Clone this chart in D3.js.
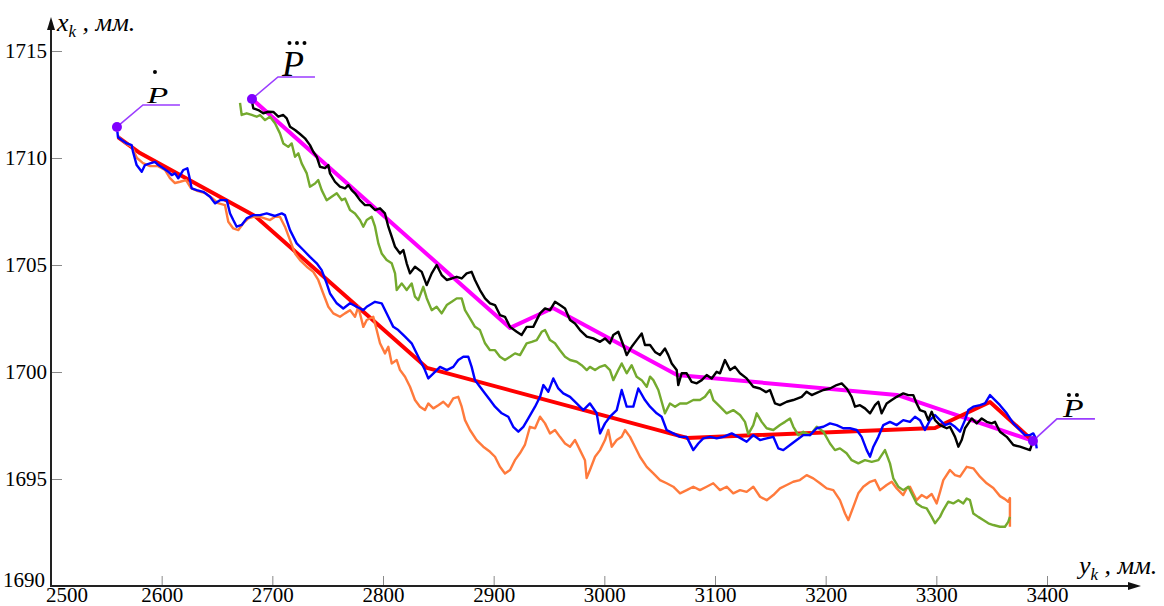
<!DOCTYPE html>
<html><head><meta charset="utf-8">
<script src="https://cdn.jsdelivr.net/npm/d3@7"></script>
<style>body{margin:0;background:#fff}svg{display:block}</style>
</head><body><svg id="c" width="1164" height="606"></svg>
<script>
const xTickValues=[2600,2700,2800,2900,3000,3100,3200,3300,3400];
const yTickValues=[1690,1695,1700,1705,1710,1715];
const xDomain=[2500,3400];
const yDomain=[1690,1715];

// piecewise approximations
const redPath=[[2560.5,1710.98],[2580.4,1710.23],[2684.3,1707.29],[2839.8,1700.19],[3074.7,1696.92],[3298.8,1697.38],[3348.5,1698.60],[3387.3,1696.78]];
const magentaPath=[[2681.6,1712.76],[2914.8,1702.06],[2953.6,1702.99],[3065.7,1699.86],[3264.4,1698.93],[3387.3,1696.78]];

// marked points
const markPoints=[{name:"P1",x:2559.6,y:1711.45},{name:"P2",x:2681.6,y:1712.76},{name:"P3",x:3387.3,y:1696.78}];

const blueSeries=[[2560,1711.23],[2560.5,1710.98],[2563.9,1710.84],[2568.4,1710.68],[2572.9,1710.60],[2574.1,1710.29],[2577.4,1709.67],[2582,1709.36],[2584.9,1709.67],[2589.5,1709.75],[2594,1709.82],[2597,1709.67],[2601.5,1709.52],[2606,1709.36],[2609.1,1709.20],[2612.1,1709.28],[2615,1709.05],[2619.6,1709.44],[2623.2,1709.52],[2625,1709.12],[2627.1,1708.58],[2631.7,1708.50],[2637.6,1708.42],[2643.7,1708.19],[2648.2,1707.88],[2652.7,1708.03],[2658.8,1708.03],[2661.8,1707.41],[2664.7,1707.10],[2667.8,1706.79],[2672.3,1706.87],[2676.8,1707.18],[2682.8,1707.33],[2688.9,1707.33],[2694.9,1707.41],[2702.4,1707.29],[2708.5,1707.41],[2711.4,1707.33],[2716,1706.63],[2722,1706.01],[2728,1705.70],[2734,1705.38],[2740.1,1705.08],[2744.6,1704.76],[2749.1,1704.14],[2752.1,1703.67],[2758.2,1703.21],[2764.1,1702.97],[2770.2,1703.21],[2776.2,1703.05],[2782.2,1702.89],[2785.3,1703.05],[2792.8,1703.28],[2798.8,1703.21],[2804.8,1702.58],[2809.3,1702.11],[2813.8,1701.96],[2819.9,1701.65],[2825.9,1701.34],[2831.9,1700.71],[2837.9,1700.09],[2840.9,1699.70],[2847,1700.01],[2851.5,1700.24],[2857.6,1700.09],[2863.5,1700.24],[2868,1700.56],[2872.6,1700.71],[2877.1,1700.71],[2880.1,1700.24],[2883.1,1699.62],[2887.6,1699.31],[2892.2,1699.00],[2896.7,1698.69],[2901.2,1698.38],[2907.3,1698.07],[2913.2,1697.91],[2917.7,1697.44],[2922.3,1697.21],[2926.8,1697.44],[2931.3,1697.83],[2937.4,1698.38],[2941.9,1698.84],[2944.9,1699.39],[2949.4,1699.08],[2953.9,1699.70],[2958.4,1699.23],[2962.9,1699.00],[2969,1698.84],[2975,1698.53],[2981,1698.22],[2987,1698.53],[2993.1,1698.07],[2996.1,1697.13],[3000.6,1697.60],[3005.1,1697.91],[3011.2,1698.22],[3015.7,1699.16],[3020.2,1698.38],[3026.2,1698.38],[3030.7,1699.23],[3036.7,1698.69],[3041.3,1698.38],[3047.3,1698.07],[3051.8,1697.91],[3056.3,1697.29],[3062.3,1697.13],[3068.4,1696.97],[3074.4,1696.97],[3080.4,1696.35],[3084.9,1696.66],[3089.4,1696.90],[3095.5,1696.97],[3101.5,1696.90],[3107.5,1696.97],[3115.1,1697.13],[3121,1696.97],[3128.6,1696.74],[3134.6,1697.05],[3140.7,1696.82],[3146.7,1696.90],[3152.7,1696.97],[3157.2,1696.43],[3161.7,1696.35],[3167.8,1696.59],[3173.8,1696.82],[3179.8,1697.05],[3185.8,1697.05],[3191.9,1697.37],[3197.9,1697.44],[3203.9,1697.60],[3209.9,1697.52],[3215.9,1697.37],[3221.9,1697.37],[3228,1697.29],[3232.5,1696.97],[3237.1,1696.35],[3240.1,1696.04],[3243.1,1696.51],[3247.6,1696.97],[3252.1,1697.52],[3258.1,1697.67],[3264.2,1697.52],[3270.1,1697.75],[3276.2,1697.67],[3280.7,1697.91],[3285.2,1697.75],[3289.7,1697.29],[3294.3,1697.75],[3298.8,1697.99],[3303.3,1697.75],[3307.8,1697.52],[3312.3,1697.60],[3316.9,1697.44],[3321.4,1697.21],[3325.9,1697.75],[3328.9,1698.22],[3333.4,1698.38],[3339.4,1698.45],[3344,1698.53],[3348.5,1698.92],[3353,1698.69],[3357.5,1698.45],[3363.6,1698.07],[3369.6,1697.60],[3375.6,1697.29],[3380.1,1697.05],[3384.6,1697.05],[3387.6,1697.13],[3389.2,1696.97],[3390.7,1696.43]];

const orangeSeries=[[2560.5,1711.02],[2566.9,1710.70],[2573.2,1710.51],[2577.7,1710.00],[2583.1,1709.76],[2589.5,1709.62],[2596.7,1709.62],[2603,1709.44],[2607.5,1709.06],[2612,1708.83],[2616.6,1708.89],[2622,1708.97],[2626.5,1708.59],[2632.8,1708.45],[2639.2,1708.36],[2645.5,1708.13],[2650.9,1707.89],[2657.2,1707.80],[2660.2,1707.02],[2664.7,1706.71],[2669.3,1706.63],[2673.8,1706.95],[2678.3,1707.18],[2682.8,1707.25],[2688.9,1707.25],[2697.9,1707.10],[2702.4,1707.25],[2706.9,1707.25],[2711.4,1706.79],[2716,1706.16],[2720.5,1705.54],[2725,1705.23],[2731.1,1704.92],[2737,1704.68],[2741.5,1704.30],[2746,1703.67],[2750.6,1703.05],[2755.1,1702.74],[2761.1,1702.58],[2765.6,1702.74],[2770.2,1702.89],[2774.7,1702.58],[2777.7,1703.05],[2782.2,1702.11],[2785.3,1702.43],[2791.2,1702.58],[2794.3,1701.96],[2797.3,1701.34],[2801.8,1700.87],[2804.8,1701.18],[2807.9,1700.40],[2812.4,1700.56],[2815.4,1700.09],[2819.9,1699.78],[2824.4,1699.31],[2828.9,1698.69],[2833.4,1698.38],[2837.9,1698.22],[2840.9,1698.53],[2845.5,1698.30],[2850,1698.45],[2854.5,1698.61],[2859,1698.38],[2863.5,1698.77],[2868,1698.84],[2871.1,1698.38],[2874.1,1697.75],[2878.6,1697.29],[2884.6,1696.82],[2890.6,1696.51],[2896.7,1696.27],[2901.2,1696.04],[2905.7,1695.57],[2910.2,1695.26],[2914.8,1695.42],[2919.2,1695.88],[2923.7,1696.20],[2928.2,1696.59],[2932.8,1697.44],[2937.4,1697.37],[2941.9,1697.91],[2946.4,1697.60],[2950.9,1697.13],[2955.4,1697.29],[2959.9,1696.97],[2964.5,1696.66],[2969,1696.51],[2973.5,1696.82],[2978,1696.35],[2982.5,1695.88],[2984,1695.04],[2987,1695.42],[2991.6,1696.04],[2996.1,1696.35],[3000.6,1696.82],[3003.6,1697.29],[3006.7,1696.51],[3011.2,1696.82],[3015.7,1696.97],[3018.7,1697.29],[3023.2,1696.97],[3027.7,1696.51],[3032.2,1696.04],[3038.3,1695.57],[3044.3,1695.26],[3050.3,1694.95],[3056.3,1694.80],[3062.3,1694.64],[3068.4,1694.33],[3074.4,1694.48],[3080.4,1694.64],[3086.4,1694.48],[3092.4,1694.64],[3098.4,1694.80],[3104.5,1694.48],[3110.5,1694.64],[3116.5,1694.33],[3122.6,1694.48],[3128.6,1694.40],[3134.6,1694.64],[3140.7,1694.17],[3146.7,1694.01],[3152.7,1694.25],[3158.7,1694.56],[3164.8,1694.72],[3170.7,1694.87],[3176.7,1694.95],[3182.8,1695.18],[3188.8,1695.03],[3194.9,1694.80],[3200.9,1694.56],[3206.9,1694.48],[3212.9,1694.01],[3217.5,1693.39],[3220.5,1693.08],[3225,1693.70],[3229.5,1694.33],[3234,1694.64],[3240.1,1694.87],[3244.6,1694.95],[3249.1,1694.48],[3255.1,1694.72],[3259.7,1694.87],[3264.2,1694.56],[3270.1,1694.25],[3273.2,1694.56],[3276.2,1694.64],[3282.2,1694.01],[3286.7,1694.25],[3291.3,1694.11],[3295.8,1694.30],[3300.3,1693.86],[3303.3,1694.39],[3306.3,1694.95],[3312.3,1695.42],[3316.9,1695.18],[3321.4,1695.11],[3327.4,1695.57],[3333.4,1695.50],[3339.4,1695.11],[3345.5,1694.80],[3351.5,1694.58],[3357.5,1694.20],[3362,1694.06],[3365,1693.94],[3366.5,1694.11],[3366.5,1692.77]];

const greenSeries=[[2670.8,1712.58],[2672.3,1712.01],[2676.8,1712.09],[2681.4,1712.01],[2685.9,1711.93],[2688.9,1712.01],[2693.4,1711.77],[2697.9,1711.93],[2702.4,1711.62],[2706.9,1711.15],[2709.9,1710.68],[2714.4,1710.52],[2717.5,1710.68],[2720.5,1710.06],[2723.5,1710.22],[2726.5,1709.75],[2731.1,1709.28],[2734,1708.66],[2738.6,1708.81],[2741.5,1708.97],[2744.6,1708.50],[2749.1,1708.03],[2753.6,1708.19],[2758.2,1708.35],[2762.7,1708.03],[2765.7,1708.11],[2770.2,1707.57],[2774.7,1707.41],[2779.2,1707.10],[2782.2,1706.79],[2785.3,1707.10],[2789.8,1707.25],[2792.8,1706.79],[2795.8,1706.01],[2798.8,1705.54],[2803.3,1705.23],[2807.9,1705.08],[2810.9,1704.61],[2812.4,1703.83],[2816.9,1704.14],[2821.4,1703.83],[2825.9,1704.14],[2828.9,1703.52],[2831.9,1703.36],[2836.4,1703.98],[2839.5,1703.45],[2844,1702.89],[2848.5,1703.05],[2853,1702.74],[2857.6,1703.13],[2862.1,1703.28],[2866.6,1703.44],[2871.1,1703.44],[2874.1,1702.89],[2878.6,1702.51],[2883.1,1702.11],[2887.6,1701.96],[2892.2,1701.34],[2896.7,1701.02],[2901.2,1701.02],[2905.7,1700.71],[2910.2,1700.56],[2914.8,1700.71],[2919.3,1700.87],[2923.8,1700.79],[2929.8,1701.34],[2934.4,1701.41],[2938.9,1701.49],[2943.4,1701.88],[2946.4,1701.96],[2950.9,1701.49],[2955.4,1701.34],[2959.9,1701.02],[2964.5,1700.71],[2969,1700.56],[2975,1700.48],[2979.5,1700.32],[2984.1,1700.09],[2987,1700.24],[2991.6,1700.09],[2996.1,1700.24],[3000.6,1700.32],[3005.1,1700.09],[3008.1,1699.62],[3012.6,1700.09],[3015.7,1700.40],[3020.2,1699.94],[3024.7,1700.32],[3029.2,1699.78],[3033.8,1699.62],[3038.3,1699.31],[3041.3,1699.78],[3044.3,1699.62],[3048.8,1699.16],[3054.8,1698.07],[3059.3,1698.53],[3063.9,1698.38],[3068.4,1698.53],[3074.4,1698.53],[3080.4,1698.69],[3086.4,1698.69],[3090.9,1698.84],[3095.5,1699.16],[3098.5,1698.69],[3104.5,1698.38],[3110.5,1698.07],[3116.5,1698.22],[3122.6,1697.99],[3127.1,1697.67],[3130.1,1697.10],[3134.6,1697.52],[3137.7,1698.07],[3142.2,1697.67],[3146.7,1697.37],[3152.7,1697.29],[3158.7,1697.52],[3163.3,1697.67],[3167.8,1697.83],[3170.8,1697.44],[3175.3,1697.05],[3179.8,1697.21],[3185.8,1697.05],[3191.9,1697.44],[3197.9,1697.21],[3203.9,1696.66],[3208.4,1696.35],[3212.9,1696.43],[3218.9,1696.20],[3223.5,1695.88],[3229.5,1695.73],[3235.5,1695.88],[3241.6,1695.80],[3247.6,1695.88],[3253.6,1696.35],[3258.1,1695.73],[3261.1,1695.03],[3265.6,1694.64],[3270.1,1694.48],[3274.7,1694.64],[3279.2,1694.17],[3282.2,1693.86],[3286.7,1693.70],[3291.3,1693.63],[3295.8,1693.23],[3298.8,1692.93],[3303.3,1693.23],[3306.3,1693.55],[3310.8,1693.94],[3315.3,1693.86],[3319.9,1694.01],[3324.4,1693.86],[3327.4,1694.09],[3330.4,1694.01],[3333.4,1693.39],[3337.9,1693.23],[3342.4,1693.08],[3347,1692.93],[3351.5,1692.85],[3357.5,1692.77],[3362,1692.77],[3365,1693.00],[3366.5,1693.23]];

const blackSeries=[[2681.4,1712.71],[2682.8,1712.32],[2687.3,1712.24],[2691.8,1712.09],[2696.4,1712.16],[2700.9,1712.15],[2705.4,1711.93],[2709.9,1712.01],[2713,1711.85],[2716,1711.46],[2720.5,1711.31],[2725,1711.12],[2729.5,1710.92],[2734,1710.60],[2737,1710.29],[2740.1,1710.06],[2743.1,1709.59],[2747.6,1709.53],[2750.6,1709.67],[2752.1,1709.28],[2756.6,1708.89],[2761.1,1708.66],[2765.7,1708.58],[2768.7,1708.73],[2771.7,1708.50],[2774.7,1708.35],[2779.2,1708.03],[2783.7,1707.80],[2788.3,1707.80],[2792.8,1707.57],[2797.3,1707.65],[2801.8,1707.41],[2804.8,1706.79],[2807.9,1706.32],[2810.9,1705.85],[2815.4,1705.54],[2818.4,1705.70],[2821.4,1705.08],[2824.4,1704.61],[2828.9,1704.92],[2835,1704.68],[2839.5,1704.06],[2844,1704.61],[2848.5,1705.00],[2853,1704.53],[2857.6,1704.30],[2862.1,1704.37],[2866.6,1704.45],[2871.1,1704.37],[2875.6,1704.61],[2880.1,1704.68],[2883.1,1704.30],[2887.6,1703.83],[2892.2,1703.44],[2896.7,1703.21],[2901.2,1703.13],[2905.7,1702.66],[2910.2,1702.58],[2914.8,1702.11],[2920.8,1701.88],[2925.3,1701.73],[2929.8,1702.11],[2935.8,1702.11],[2941.9,1702.74],[2946.4,1702.97],[2950.9,1702.89],[2955.4,1703.28],[2959.9,1703.13],[2964.5,1702.97],[2969,1702.43],[2973.5,1702.27],[2978,1701.96],[2984.1,1701.65],[2990,1701.57],[2996.1,1701.41],[3000.6,1701.57],[3005.1,1701.34],[3008.1,1701.73],[3012.6,1701.88],[3017.1,1701.26],[3020.2,1700.79],[3024.7,1701.18],[3029.2,1701.49],[3033.8,1701.80],[3036.7,1701.26],[3041.3,1701.26],[3045.8,1700.94],[3050.3,1700.79],[3054.8,1701.10],[3057.8,1700.79],[3060.9,1700.40],[3065.4,1700.09],[3066.8,1699.39],[3069.9,1699.94],[3074.4,1699.94],[3078.9,1699.54],[3083.5,1699.47],[3088,1699.62],[3092.5,1699.86],[3097,1699.70],[3101.5,1700.01],[3104.5,1699.94],[3109,1700.56],[3113.6,1700.09],[3118.1,1700.24],[3122.6,1699.94],[3128.6,1699.70],[3134.6,1699.31],[3140.7,1699.23],[3146.1,1699.06],[3149.7,1699.16],[3154.2,1698.53],[3158.7,1698.45],[3164.8,1698.61],[3170.7,1698.69],[3178.3,1698.84],[3182.8,1699.08],[3187.4,1698.92],[3191.9,1699.02],[3197.9,1699.16],[3203.9,1699.23],[3209.9,1699.39],[3214.5,1699.47],[3219,1699.23],[3223.5,1698.84],[3226.5,1698.38],[3231,1698.45],[3235.5,1698.30],[3240.1,1698.07],[3244.6,1698.45],[3247.6,1698.61],[3250.6,1698.07],[3255.1,1698.53],[3259.7,1698.69],[3264.2,1698.84],[3270.1,1699.00],[3274.7,1698.92],[3279.2,1698.92],[3282.2,1698.53],[3285.2,1698.22],[3289.7,1698.14],[3292.7,1697.75],[3295.8,1698.14],[3298.8,1697.75],[3303.3,1697.52],[3309.4,1697.37],[3312.3,1697.44],[3316.9,1696.97],[3319.9,1696.51],[3322.9,1696.82],[3325.9,1697.37],[3328.9,1697.60],[3332,1697.83],[3336.5,1697.60],[3341,1697.83],[3345.5,1697.67],[3350,1697.60],[3353,1697.67],[3357.5,1697.21],[3363.6,1696.97],[3369.6,1696.59],[3375.6,1696.51],[3380.1,1696.43],[3384.6,1696.35],[3386.2,1696.59]];

const svg=d3.select("#c");
const x=d3.scaleLinear().domain(xDomain).range([51,1047]);
const y=d3.scaleLinear().domain(yDomain).range([586,51]);
const line=d3.line().x(d=>x(d[0])).y(d=>y(d[1]));
const serif="Liberation Serif, DejaVu Serif, serif";

// axes
const yAx=svg.append("g").attr("transform","translate(51,0)")
  .call(d3.axisLeft(y).tickValues(yTickValues).tickSizeInner(-11).tickSizeOuter(0).tickPadding(4).tickFormat(d3.format("d")));
const xAx=svg.append("g").attr("transform","translate(0,586)")
  .call(d3.axisBottom(x).tickValues(xTickValues).tickSizeInner(-10).tickSizeOuter(0).tickPadding(3).tickFormat(d3.format("d")));
[yAx,xAx].forEach(g=>{
  g.attr("font-family",serif).attr("font-size",21);
  g.select(".domain").remove();
  g.selectAll(".tick line").attr("stroke","#8a8a8a").attr("stroke-width",1);
  g.selectAll(".tick text").attr("fill","#000").attr("font-family",serif).attr("font-size",21);
});
yAx.selectAll(".tick text").filter(d=>d===1690).attr("dy","0em").attr("x",-6);
xAx.selectAll(".tick text").attr("dy","0.62em");
// origin label on x axis
svg.append("text").attr("x",x(2500)+16).attr("y",586+3).attr("dy","0.62em").attr("text-anchor","middle")
  .attr("font-family",serif).attr("font-size",21).text(xDomain[0]);

// axis lines with arrows
svg.append("line").attr("x1",51).attr("y1",586).attr("x2",51).attr("y2",26).attr("stroke","#222").attr("stroke-width",2);
svg.append("line").attr("x1",50).attr("y1",586).attr("x2",1130).attr("y2",586).attr("stroke","#222").attr("stroke-width",2);
svg.append("path").attr("d","M51,17 L47,30 L55,30 Z").attr("fill","#111");
svg.append("path").attr("d","M1141,586 L1128,582 L1128,590 Z").attr("fill","#111");

// axis titles
function axisTitle(px,py,v){
  const t=svg.append("text").attr("x",px).attr("y",py).attr("font-family",serif).attr("font-style","italic").attr("font-size",26);
  t.append("tspan").text(v);
  t.append("tspan").attr("dy",6).attr("font-size",17).text("k");
  t.append("tspan").attr("dy",-6).text(" , мм.");
}
axisTitle(57,31,"x");
axisTitle(1079,574,"y");

// reference polylines
svg.append("path").attr("d",line(magentaPath)).attr("fill","none").attr("stroke","#ff00ff").attr("stroke-width",4).attr("stroke-linejoin","round");
svg.append("path").attr("d",line(redPath)).attr("fill","none").attr("stroke","#ff0000").attr("stroke-width",4).attr("stroke-linejoin","round");

// measured traces
const series=[[orangeSeries,"#ff7a3c"],[greenSeries,"#74aa2e"],[blueSeries,"#0000ff"],[blackSeries,"#000000"]];
series.forEach(([d,c])=>{
  svg.append("path").attr("d",line(d)).attr("fill","none").attr("stroke",c).attr("stroke-width",2.4).attr("stroke-linejoin","round");
});

// leaders and marked points
const leaderOffsets={P1:[[26,-22],[63,-22]],P2:[[26,-22],[63,-22]],P3:[[24,-22],[62,-22]]};
markPoints.forEach(p=>{
  const px=x(p.x),py=y(p.y);
  const o=leaderOffsets[p.name];
  svg.append("polyline").attr("points",`${px},${py} ${px+o[0][0]},${py+o[0][1]} ${px+o[1][0]},${py+o[1][1]}`)
    .attr("fill","none").attr("stroke","#9b3dff").attr("stroke-width",1.6);
  svg.append("circle").attr("cx",px).attr("cy",py).attr("r",5).attr("fill","#8000ff");
});

// labels (P with derivative dots)
function labelP(px,py,size,sx,dots){
  const g=svg.append("g");
  g.append("text").attr("transform",`translate(${px},${py}) scale(${sx},1)`)
    .attr("font-family",serif).attr("font-style","italic").attr("font-size",size).text("P");
  dots.forEach(d=>g.append("circle").attr("cx",d[0]).attr("cy",d[1]).attr("r",2).attr("fill","#000"));
}
const p1=markPoints[0],p2=markPoints[1],p3=markPoints[2];
labelP(x(p1.x)+30,y(p1.y)-24,24,1.45,[[x(p1.x)+38,y(p1.y)-55]]);
labelP(x(p2.x)+30,y(p2.y)-23,36,1,[[x(p2.x)+37.5,y(p2.y)-56],[x(p2.x)+45,y(p2.y)-56],[x(p2.x)+52.5,y(p2.y)-56]]);
labelP(x(p3.x)+30,y(p3.y)-24,26,1.3,[[x(p3.x)+36,y(p3.y)-46],[x(p3.x)+44,y(p3.y)-46]]);
</script></body></html>
